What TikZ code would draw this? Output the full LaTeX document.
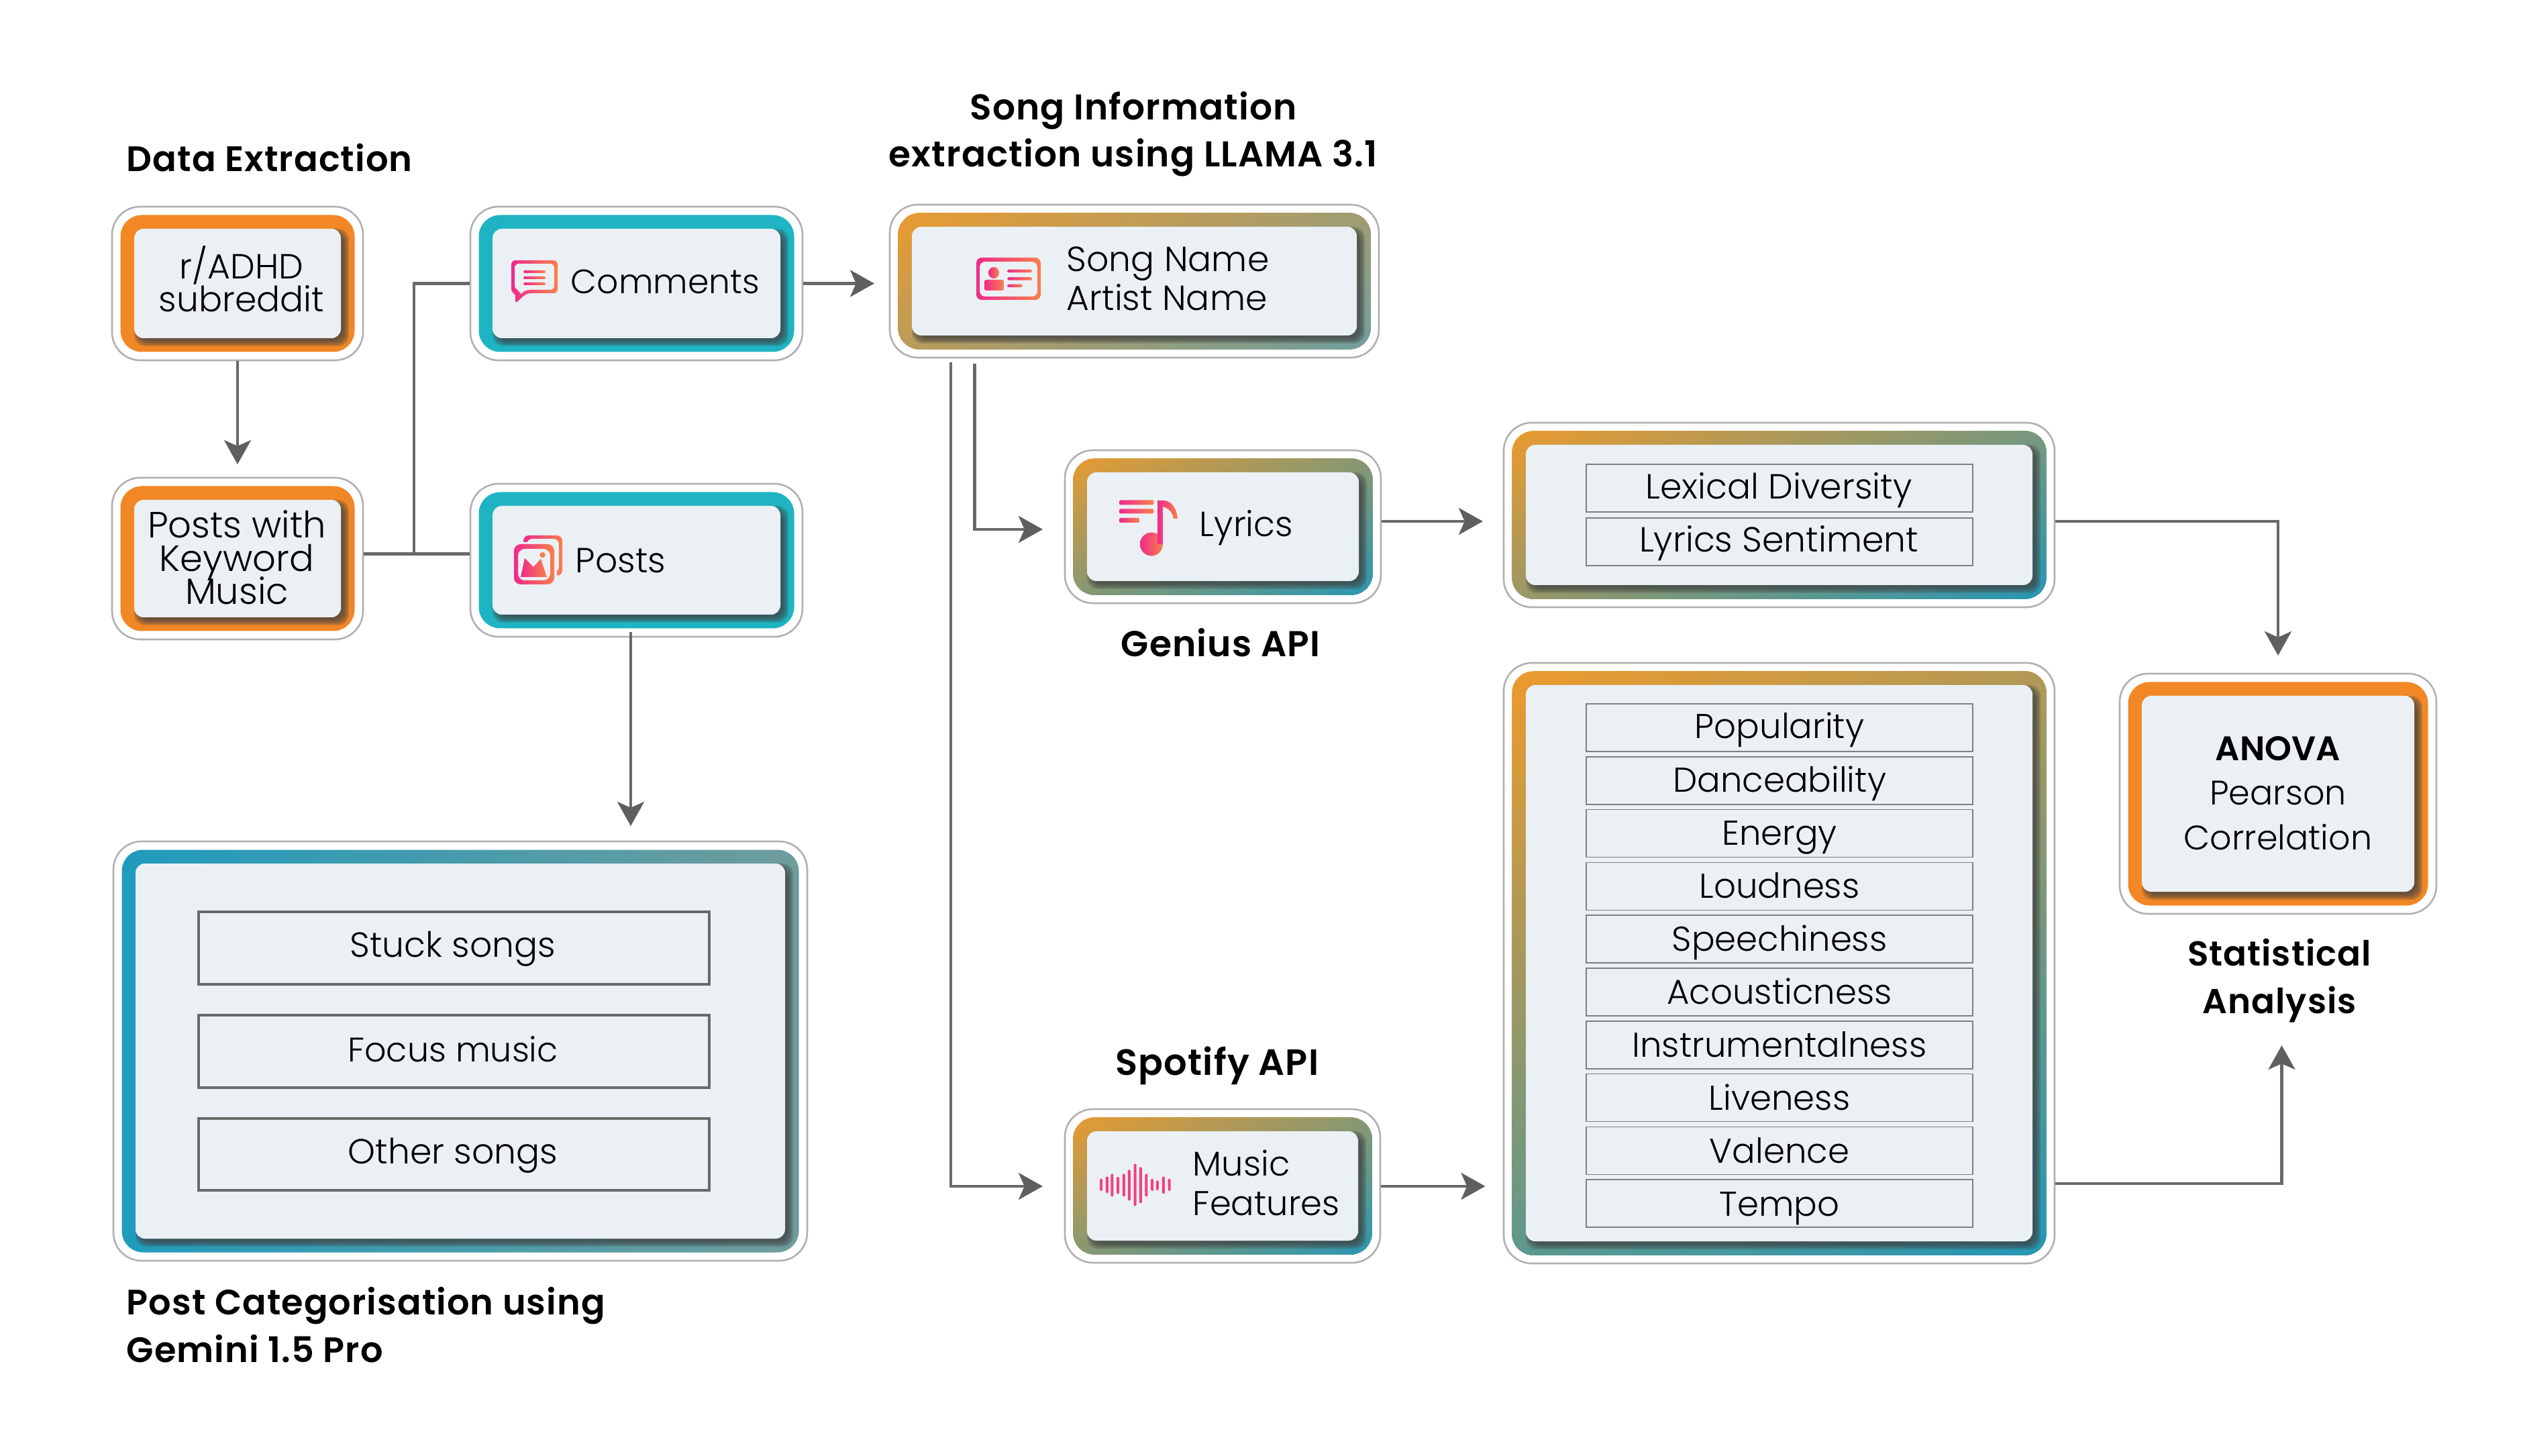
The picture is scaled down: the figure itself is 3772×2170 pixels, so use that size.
\documentclass[tikz,border=0pt]{standalone}
\usepackage{fontspec}
\setmainfont{Poppins}[UprightFont=* Light,BoldFont=* SemiBold]
\newfontfamily\headf{Poppins SemiBold}[LetterSpace=2]
\usetikzlibrary{arrows.meta,calc,fit}
\normallineskiplimit=-100pt
\lineskiplimit=-100pt
\definecolor{gOr}{HTML}{EE9A2C}
\definecolor{gBl}{HTML}{1F97BA}
\definecolor{gSong}{HTML}{6A9FA3}
\definecolor{catL}{HTML}{1F9BBD}
\definecolor{catR}{HTML}{709C9B}
\definecolor{solidOr}{HTML}{F18825}
\definecolor{solidTe}{HTML}{1EB4C3}
\definecolor{inFill}{HTML}{EBF0F4}
\definecolor{outLn}{HTML}{B0B0B3}
\definecolor{conLn}{HTML}{696969}
\definecolor{headC}{HTML}{5F5F5F}
\definecolor{icA}{HTML}{EE2A8C}
\definecolor{icB}{HTML}{F97F4C}
\definecolor{waveC}{HTML}{F4407E}
\tikzset{
  x=0.25pt,y=-0.25pt,
  outerbox/.style={draw=outLn,line width=0.65pt,fill=white,rounded corners=10.5pt,inner sep=0pt,rectangle},
  line/.style={draw=conLn,line width=1.05pt},
  conn/.style={line,-{Stealth[length=9pt,width=10pt,inset=2.2pt,color=headC]}},
  subA/.style={draw=conLn,line width=0.85pt,fill=inFill},
  subB/.style={draw=conLn!85,line width=0.4pt,fill=inFill},
  body/.style={font=\fontsize{13}{12.3}\selectfont,text=black,inner sep=0pt,align=center},
  head/.style={font=\fontsize{13.2}{17.7}\selectfont\headf,text=black,inner sep=0pt},
  ic/.style={left color=icA,right color=icB},
}
% banded gradient: colour runs with dx + 2.2 dy across the box
\newcommand{\ringD}[1]{%
  \foreach \kk in {0,...,70}{%
    \pgfmathsetmacro{\bandT}{\sd/70*\kk}%
    \pgfmathsetmacro{\bandQ}{\bandT/2.2}%
    \pgfmathsetmacro{\bandP}{100-100*\kk/70}%
    \fill[gOr!\bandP!#1] ($(\pn a)+(\bandT,0)$) -- ($(\pn a)+(\sd,0)$) -- ($(\pn b)+(1,1)$) -- ($(\pn a)+(0,\sd/2.2)$) -- ($(\pn a)+(0,\bandQ)$) -- cycle;
  }}
\newcommand{\ringH}{\shade[left color=catL,right color=catR] (\pn a) rectangle (\pn b);}
\newcommand{\ringS}[1]{\fill[#1] (\pn a) rectangle (\pn b);}
\newcommand{\panel}[6]{%
  \def\pn{#1}%
  \pgfmathsetmacro{\sd}{(#4-#2)+2.2*(#5-#3)}%
  \path (#2,#3) coordinate (#1a) (#4,#5) coordinate (#1b);
  \node[outerbox,fit=(#1a)(#1b)] (#1) {};
  \begin{scope}
    \clip[rounded corners=8pt] ($(#1a)+(12.5,12.5)$) rectangle ($(#1b)-(12.5,12.5)$);
    #6
    \foreach \ee in {6,4,2,0,-2}
      \fill[black!75,fill opacity=.24,rounded corners=4pt]
        ($(#1a)+(39-\ee,39-\ee)$) rectangle ($(#1b)+(-27+\ee,-27+\ee)$);
  \end{scope}
  \fill[inFill,rounded corners=3.5pt] ($(#1a)+(33,33)$) rectangle ($(#1b)-(33,33)$);
}
\newcommand{\gbar}[4]{\shade[ic,rounded corners=0.4pt] (#1,#2-#4/2) rectangle (#3,#2+#4/2);}
\begin{document}
\begin{tikzpicture}
\useasboundingbox (0,0) rectangle (3772,2170);
\fill[white] (0,0) rectangle (3772,2170);
% panels
\panel{src}{167}{308}{541}{537}{\ringS{solidOr}}
\panel{kw}{167}{712}{541}{953}{\ringS{solidOr}}
\panel{com}{701}{308}{1196}{537}{\ringS{solidTe}}
\panel{pst}{701}{721}{1196}{949}{\ringS{solidTe}}
\panel{cat}{169}{1254}{1203}{1879}{\ringH}
\panel{song}{1326}{305}{2055}{533}{\ringD{gSong}}
\panel{lyr}{1587}{671}{2058}{899}{\ringD{gBl}}
\panel{mus}{1587}{1653}{2057}{1882}{\ringD{gBl}}
\panel{lex}{2241}{630}{3062}{905}{\ringD{gBl}}
\panel{feat}{2241}{988}{3062}{1883}{\ringD{gBl}}
\panel{stat}{3159}{1004}{3631}{1362}{\ringS{solidOr}}
% category rows
\node[subA,fit={(296,1359)(1057,1467)},inner sep=0pt] (r1) {};
\node[subA,fit={(296,1513)(1057,1621)},inner sep=0pt] (r2) {};
\node[subA,fit={(296,1667)(1057,1774)},inner sep=0pt] (r3) {};
\node[body,anchor=base] (t1) at (675,1426) {Stuck songs};
\node[body,anchor=base,font=\fontsize{12.7}{12.3}\selectfont] (t2) at (675,1582) {Focus music};
\node[body,anchor=base] (t3) at (675,1734) {Other songs};
% lexical rows
\node[subB,fit={(2364,692)(2940,763)},inner sep=0pt] (l1) {};
\node[subB,fit={(2364,772)(2940,843)},inner sep=0pt] (l2) {};
\node[body,anchor=base] (lt1) at (2651,744) {Lexical Diversity};
\node[body,anchor=base] (lt2) at (2651,823) {Lyrics Sentiment};
% feature rows
\foreach \nm/\tx [count=\i from 0] in {a/Popularity,b/Danceability,c/Energy,d/Loudness,e/Speechiness,f/Acousticness,g/Instrumentalness,h/Liveness,i/Valence,j/Tempo}{
  \pgfmathsetmacro{\ty}{1049+78.8*\i}
  \node[subB,fit={(2364,\ty)(2940,\ty+71)},inner sep=0pt] (f\nm) {};
  \node[body,anchor=base,font=\fontsize{12.85}{12.3}\selectfont] (ft\nm) at (2652,\ty+52+0.25*\i) {\tx};
}
% box texts
\node[body,anchor=base] (tsrc) at (360,465) {r/ADHD\\subreddit};
\node[body,anchor=base,font=\fontsize{13.6}{12.4}\selectfont] (tkw) at (353,901) {Posts with\\Keyword\\Music};
\node[body,anchor=base west,font=\fontsize{12.6}{12.3}\selectfont] (tcom) at (850,438) {Comments};
\node[body,anchor=base west] (tpst) at (857,854) {Posts};
\node[body,anchor=base west,align=left,font=\fontsize{13}{14.7}\selectfont] (tsong) at (1589,463) {Song Name\\Artist Name};
\node[body,anchor=base west] (tlyr) at (1787,800) {Lyrics};
\node[body,anchor=base west,align=left,font=\fontsize{12.8}{14.6}\selectfont] (tmus) at (1777,1811) {Music\\Features};
\node[body,anchor=base,font=\fontsize{12.7}{16.6}\selectfont] (tstat) at (3395,1266) {\textbf{ANOVA}\\Pearson\\Correlation};
% headings
\node[head,anchor=base west] (h1) at (188,256) {Data Extraction};
\node[head,anchor=base,align=center,font=\fontsize{13.35}{17.7}\selectfont\headf] (h2) at (1689,249) {Song Information\\extraction using LLAMA 3.1};
\node[head,anchor=base,font=\fontsize{13.4}{17.7}\selectfont\headf] (h3) at (1819,979) {Genius API};
\node[head,anchor=base,font=\fontsize{13.6}{17.7}\selectfont\headf] (h4) at (1814,1602) {Spotify API};
\node[head,anchor=base,align=center,font=\fontsize{12.9}{17.7}\selectfont\headf] (h5) at (3397,1510) {Statistical\\Analysis};
\node[head,anchor=base west,align=left,font=\fontsize{13.15}{17.7}\selectfont\headf] (h6) at (188,2030) {Post Categorisation using\\Gemini 1.5 Pro};
% connector ends
\coordinate (tipA) at (354,692);
\coordinate (j1) at (617,825.5);
\coordinate (tipB) at (1303,422.5);
\coordinate (pd) at (940,942);
\coordinate (tipC) at (940,1231);
\coordinate (s1) at (1452.5,542);
\coordinate (tipD) at (1554,789);
\coordinate (s2) at (1417,540);
\coordinate (tipE) at (1554,1768);
\coordinate (tipF) at (2210,777);
\coordinate (tipG) at (3395,977);
\coordinate (tipH) at (2213.5,1768);
\coordinate (c1) at (3400.5,1764);
\coordinate (tipI) at (3400.5,1558);
% connectors
\draw[conn] (src.south) -- (tipA);
\draw[line] (kw.east |- j1) -- (pst.west |- j1);
\draw[line] (j1) |- (com.west);
\draw[conn] (com.east) -- (tipB);
\draw[conn] (pd) -- (tipC);
\draw[conn] (s1) |- (tipD);
\draw[conn] (s2) |- (tipE);
\draw[conn] (lyr.east |- tipF) -- (tipF);
\draw[conn] (lex.east |- tipF) -| (tipG);
\draw[conn] (mus.east |- tipH) -- (tipH);
\draw[conn] (feat.east |- c1) -| (tipI);
% icon: comment bubble
\shade[ic,even odd rule,rounded corners=1.5pt]
  (762,388)--(831,388)--(831,437)--(785,437)--(767,453)--(769,437)--(762,437)--cycle
  (767,393)--(767,432)--(775,432)--(774,441)--(783,432)--(826,432)--(826,393)--cycle;
\gbar{780}{405}{813}{4}\gbar{780}{414}{813}{4}\gbar{780}{423}{813}{4}
% icon: posts
\shade[ic,even odd rule,rounded corners=2pt]
  (780,798) rectangle (838,858) (785,803) rectangle (833,853);
\fill[inFill,rounded corners=2.5pt] (766,808) rectangle (830,874);
\shade[ic,even odd rule,rounded corners=2.5pt]
  (766,811) rectangle (826,871) (772,818) rectangle (820,865);
\shade[ic] (776,860)--(782,832)--(795,845)--(806,833)--(815,860)--cycle;
\fill[icB] (808.5,827) circle[radius=4.2];
% icon: id card
\shade[ic,even odd rule,rounded corners=2pt]
  (1455,384) rectangle (1551,447) (1460,390) rectangle (1546,442);
\shade[ic] (1481,406.5) ellipse[x radius=8,y radius=8.5];
\shade[ic,rounded corners=0.7pt] (1467,417) rectangle (1496,433);
\gbar{1501.5}{404}{1538}{4.5}\gbar{1501.5}{415.5}{1538}{4.5}\gbar{1501.5}{426}{1523.5}{4.5}
% icon: lyrics note
\gbar{1668}{749}{1719.5}{7}\gbar{1668}{762}{1719.5}{7}\gbar{1668}{775.5}{1698}{7}
\shade[ic] (1716,811) ellipse[x radius=17,y radius=17.5];
\shade[ic] (1725,811) -- (1725,746) -- (1736,746) .. controls (1748,748) and (1754,760) .. (1755,773) -- (1749,773) .. controls (1748,765) and (1743,758) .. (1733,755) -- (1733,811) -- cycle;
% icon: sound wave
\foreach \bx/\ha/\hb in {159/410/465,176/400/475,191/388/490,208/402/478,225/388/490,241/370/508,258/343/533,274/358/520,291/388/490,308/410/465,323/418/462,341/400/478,358/410/465}{
  \pgfmathsetmacro{\wx}{\bx/1.96+1560}
  \pgfmathsetmacro{\wa}{\ha/3+1620}
  \pgfmathsetmacro{\wb}{\hb/3+1620}
  \fill[waveC,rounded corners=0.4pt] (\wx-2,\wa) rectangle (\wx+2,\wb);
}
\end{tikzpicture}
\end{document}
